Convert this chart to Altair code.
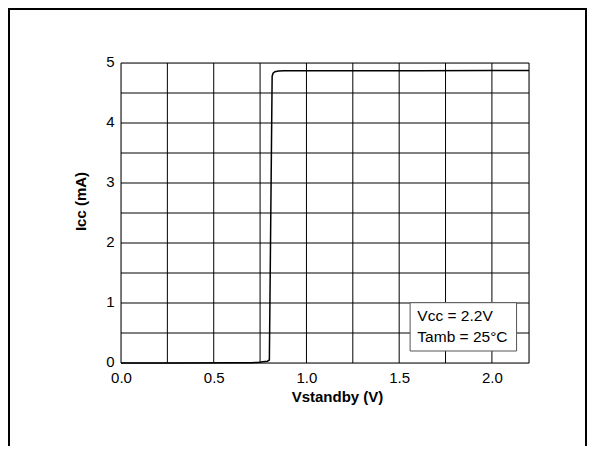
import altair as alt
import pandas as pd

# Curve data
vstandby = [0.0, 0.30, 0.60, 0.70, 0.74, 0.765, 0.790, 0.800, 0.815, 0.820, 0.830, 0.850, 0.880, 1.20, 1.60, 2.00, 2.20]
icc = [0.0, 0.0, 0.003, 0.006, 0.010, 0.020, 0.030, 0.050, 4.78, 4.83, 4.855, 4.865, 4.870, 4.870, 4.870, 4.875, 4.875]

# Annotation box
box_x = [1.559]
box_x2 = [2.133]
box_y = [0.20]
box_y2 = [1.005]
note_text = ["Vcc = 2.2V", "Tamb = 25°C"]
note_x = [1.598, 1.598]
note_y = [0.783, 0.433]

x_grid = [0.0, 0.25, 0.5, 0.75, 1.0, 1.25, 1.5, 1.75, 2.0, 2.2]
y_grid = [0.0, 0.5, 1.0, 1.5, 2.0, 2.5, 3.0, 3.5, 4.0, 4.5, 5.0]
x_ticks = [0.0, 0.5, 1.0, 1.5, 2.0]
y_ticks = [0, 1, 2, 3, 4, 5]

FONT = "Liberation Sans"

df = pd.DataFrame({"v": vstandby, "i": icc})

xscale = alt.Scale(domain=[0, 2.2], nice=False, zero=False)
yscale = alt.Scale(domain=[0, 5], nice=False, zero=False)

xaxis = alt.Axis(title="Vstandby (V)", values=x_ticks, format=".1f",
                 grid=False, ticks=False, labelPadding=7, domain=False,
                 labelFontSize=15, labelColor="black", labelFont=FONT,
                 titleFontSize=15, titleFont=FONT, titleFontWeight="bold",
                 titleColor="black", titleX=216, titleY=38,
                 titleBaseline="alphabetic", labelFlush=False)
yaxis = alt.Axis(title="Icc (mA)", values=y_ticks, format="d",
                 grid=False, ticks=False, labelPadding=7, domain=False,
                 labelOffset=-2,
                 labelFontSize=15, labelColor="black", labelFont=FONT,
                 titleFontSize=15, titleFont=FONT, titleFontWeight="bold",
                 titleColor="black", titleX=-33, titleY=138, titleAngle=270,
                 titleAlign="center", titleBaseline="bottom", labelFlush=False)

xgrid = alt.Chart(pd.DataFrame({"g": x_grid})).mark_rule(color="black", strokeWidth=1).encode(
    x=alt.X("g:Q", scale=xscale, axis=xaxis))
ygrid = alt.Chart(pd.DataFrame({"g": y_grid})).mark_rule(color="black", strokeWidth=1).encode(
    y=alt.Y("g:Q", scale=yscale, axis=yaxis))

line = alt.Chart(df).mark_line(color="black", strokeWidth=1.5).encode(
    x=alt.X("v:Q", scale=xscale, axis=xaxis),
    y=alt.Y("i:Q", scale=yscale, axis=yaxis),
)

box_df = pd.DataFrame({"x": box_x, "x2": box_x2, "y": box_y, "y2": box_y2})
box = alt.Chart(box_df).mark_rect(fill="white", stroke="#555555", strokeWidth=1).encode(
    x=alt.X("x:Q", scale=xscale, axis=xaxis), x2="x2:Q",
    y=alt.Y("y:Q", scale=yscale, axis=yaxis), y2="y2:Q",
)

note_df = pd.DataFrame({"t": note_text, "x": note_x, "y": note_y})
notes = alt.Chart(note_df).mark_text(align="left", baseline="middle", fontSize=15.5,
                                     font=FONT, color="black").encode(
    x=alt.X("x:Q", scale=xscale, axis=xaxis),
    y=alt.Y("y:Q", scale=yscale, axis=yaxis), text="t:N")

frame_df = pd.DataFrame({"a": [0]})
frame = alt.Chart(frame_df).mark_rect(fillOpacity=0, stroke="black", strokeWidth=2,
                                      clip=False).encode(
    x=alt.value(-112), x2=alt.value(465), y=alt.value(-54), y2=alt.value(420))

chart = alt.layer(xgrid, ygrid, line, box, notes, frame).properties(
    width=408, height=300,
    padding={"left": 113, "top": 55, "right": 58, "bottom": 83},
    autosize=alt.AutoSizeParams(type="none"),
).configure_view(stroke="black", strokeWidth=1.5).configure(background="white")

chart.save("out.html", embed_options={"renderer": "svg", "actions": False})
